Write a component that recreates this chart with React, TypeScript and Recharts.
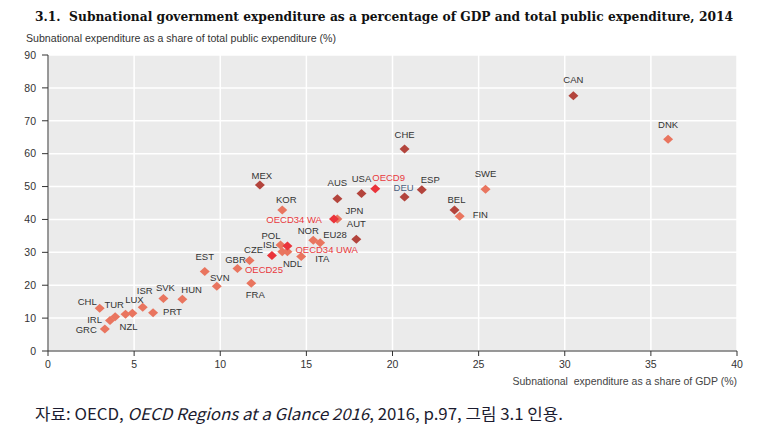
import { CartesianGrid, Scatter, ScatterChart, XAxis, YAxis } from "recharts";

// federal countries
const federalCodes = ["CAN", "CHE", "USA", "DEU", "AUS", "ESP", "BEL", "MEX", "AUT"];
const federalGdp = [30.5, 20.7, 18.2, 20.7, 16.8, 21.7, 23.6, 12.3, 17.9];
const federalTotal = [77.6, 61.4, 47.9, 46.8, 46.3, 49.0, 42.9, 50.5, 34.0];

// unitary countries + EU28
const unitaryCodes = [
  "DNK", "SWE", "FIN", "KOR", "JPN", "NOR", "EU28", "POL", "ISL", "NDL", "ITA", "CZE", "GBR",
  "FRA", "EST", "SVN", "HUN", "SVK", "PRT", "ISR", "LUX", "NZL", "TUR", "IRL", "CHL", "GRC",
];
const unitaryGdp = [
  36.0, 25.4, 23.9, 13.6, 16.8, 15.4, 15.8, 13.5, 13.6, 13.9, 14.7, 11.7, 11.0,
  11.8, 9.1, 9.8, 7.8, 6.7, 6.1, 5.5, 4.9, 4.5, 3.9, 3.6, 3.0, 3.3,
];
const unitaryTotal = [
  64.4, 49.2, 41.0, 42.9, 40.1, 33.7, 32.9, 32.2, 30.2, 30.2, 28.7, 27.5, 25.1,
  20.6, 24.2, 19.7, 15.7, 16.0, 11.6, 13.3, 11.5, 11.2, 10.4, 9.3, 13.0, 6.7,
];

// OECD averages
const oecdCodes = ["OECD9", "OECD34 WA", "OECD34 UWA", "OECD25"];
const oecdGdp = [19.0, 16.6, 13.9, 13.0];
const oecdTotal = [49.3, 40.1, 31.9, 29.0];

const xTicks = [0, 5, 10, 15, 20, 25, 30, 35, 40];
const yTicks = [0, 10, 20, 30, 40, 50, 60, 70, 80, 90];

type Pt = { code: string; gdp: number; total: number };
const toPoints = (codes: string[], gdp: number[], total: number[]): Pt[] =>
  codes.map((code, i) => ({ code, gdp: gdp[i], total: total[i] }));

const federal = toPoints(federalCodes, federalGdp, federalTotal);
const unitary = toPoints(unitaryCodes, unitaryGdp, unitaryTotal);
const oecd = toPoints(oecdCodes, oecdGdp, oecdTotal);

// label placement relative to marker: dx, dy, anchor
const labelPos: Record<string, [number, number, "start" | "middle" | "end"]> = {
  CAN: [0, -16, "middle"],
  DNK: [0, -15, "middle"],
  CHE: [0, -15, "middle"],
  SWE: [0, -16, "middle"],
  ESP: [-1, -10, "start"],
  DEU: [-1, -10, "middle"],
  OECD9: [-3, -11, "start"],
  USA: [0, -15, "middle"],
  AUS: [0, -16, "middle"],
  MEX: [2, -9, "middle"],
  KOR: [4, -10, "middle"],
  BEL: [2, -10, "middle"],
  FIN: [13, -2, "start"],
  "OECD34 WA": [-12, 0, "end"],
  JPN: [8, -9, "start"],
  AUT: [0, -16, "middle"],
  NOR: [-5, -10, "middle"],
  EU28: [3, -8, "start"],
  POL: [0, -10, "end"],
  ISL: [-5, -7, "end"],
  "OECD34 UWA": [8, 3, "start"],
  NDL: [5, 12, "middle"],
  ITA: [14, 2, "start"],
  CZE: [4, -11, "middle"],
  GBR: [-2, -9, "middle"],
  OECD25: [-27, 14, "start"],
  FRA: [4, 11, "middle"],
  EST: [0, -15, "middle"],
  SVN: [3, -9, "middle"],
  HUN: [-1, -10, "start"],
  SVK: [2, -11, "middle"],
  PRT: [10, -1, "start"],
  ISR: [2, -17, "middle"],
  LUX: [2, -14, "middle"],
  TUR: [-1, -12, "middle"],
  NZL: [3, 12, "middle"],
  CHL: [-3, -7, "end"],
  IRL: [-8, -1, "end"],
  GRC: [-8, 1, "end"],
};

const makeShape = (labelColor: string) => (props: any) => {
  const { cx, cy, fill, payload } = props;
  const code: string = payload.code;
  const [dx, dy, anchor] = labelPos[code] ?? [0, -12, "middle"];
  const color = code === "DEU" ? "#4b5f7e" : labelColor;
  return (
    <g>
      <polygon
        points={`${cx},${cy - 4.5} ${cx + 5},${cy} ${cx},${cy + 4.5} ${cx - 5},${cy}`}
        fill={fill}
      />
      <text
        x={cx + dx}
        y={cy + dy}
        textAnchor={anchor}
        dominantBaseline="central"
        fontSize={9.5}
        fontFamily="Liberation Sans, Arial, sans-serif"
        fill={color}
      >
        {code}
      </text>
    </g>
  );
};

const tickStyle = { fontSize: 10.5, fill: "#333", fontFamily: "Liberation Sans, Arial, sans-serif" };

export default function App() {
  return (
    <div style={{ position: "absolute", left: 0, top: 0, width: 763, height: 441, background: "#fff" }}>
      <ScatterChart width={763} height={441} margin={{ top: 55, right: 26, bottom: 60, left: 8 }}>
        <CartesianGrid fill="#ebebeb" stroke="#ffffff" strokeWidth={1.5} />
        <XAxis
          type="number"
          dataKey="gdp"
          domain={[0, 40]}
          ticks={xTicks}
          height={30}
          tickSize={5}
          tickMargin={5}
          axisLine={{ stroke: "#333" }}
          tickLine={{ stroke: "#333" }}
          tick={tickStyle}
        />
        <YAxis
          type="number"
          dataKey="total"
          domain={[0, 90]}
          ticks={yTicks}
          width={40}
          tickSize={6}
          tickMargin={6}
          axisLine={{ stroke: "#333" }}
          tickLine={{ stroke: "#333" }}
          tick={tickStyle}
        />
        <Scatter data={unitary} fill="#e9755f" shape={makeShape("#333")} isAnimationActive={false} />
        <Scatter data={federal} fill="#b3443c" shape={makeShape("#333")} isAnimationActive={false} />
        <Scatter data={oecd} fill="#ea343b" shape={makeShape("#e8383d")} isAnimationActive={false} />
      </ScatterChart>
      <svg
        width={763}
        height={441}
        style={{ position: "absolute", left: 0, top: 0, pointerEvents: "none" }}
      >
        <text
          x={35}
          y={16}
          dominantBaseline="central"
          fontSize={12.5}
          fontWeight="bold"
          fontFamily="DejaVu Serif, serif"
          fill="#111"
          textLength={698}
          lengthAdjust="spacingAndGlyphs"
          xmlSpace="preserve"
        >
          3.1.  Subnational government expenditure as a percentage of GDP and total public expenditure, 2014
        </text>
        <text
          x={26}
          y={38}
          dominantBaseline="central"
          fontSize={10.5}
          fontFamily="Liberation Sans, Arial, sans-serif"
          fill="#333"
          textLength={310}
          lengthAdjust="spacingAndGlyphs"
        >
          Subnational expenditure as a share of total public expenditure (%)
        </text>
        <text
          x={737}
          y={381}
          textAnchor="end"
          dominantBaseline="central"
          fontSize={10.5}
          fontFamily="Liberation Sans, Arial, sans-serif"
          fill="#444"
          xmlSpace="preserve"
        >
          Subnational  expenditure as a share of GDP (%)
        </text>
        <text
          x={35}
          y={413}
          dominantBaseline="central"
          fontSize={16}
          fontFamily="Noto Sans CJK KR, sans-serif"
          fill="#1c1c30"
          textLength={528}
          lengthAdjust="spacingAndGlyphs"
        >
          자료: OECD, <tspan fontStyle="italic">OECD Regions at a Glance 2016</tspan>, 2016, p.97, 그림 3.1 인용.
        </text>
      </svg>
    </div>
  );
}
